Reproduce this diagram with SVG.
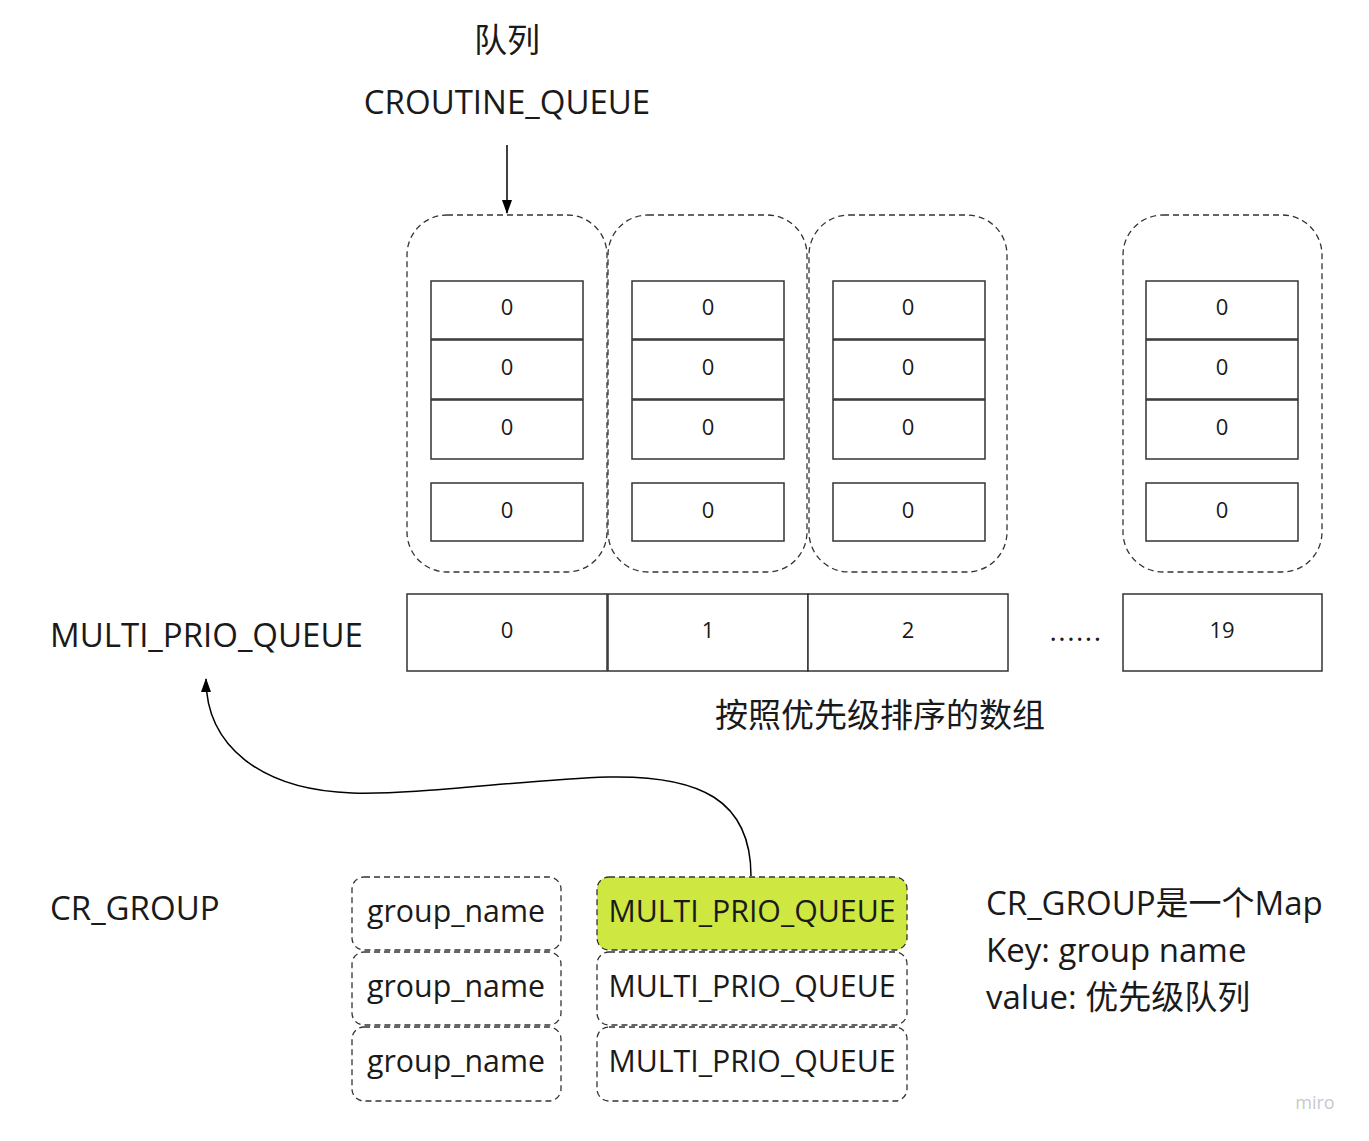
<svg xmlns="http://www.w3.org/2000/svg" width="1369" height="1141" viewBox="0 0 1369 1141">
<defs>
<style>
text{font-family:"Open Sans","Noto Sans CJK SC",sans-serif;fill:#1a1a1a}
.cont{fill:none;stroke:#333;stroke-width:1.3;stroke-dasharray:6 4}
.cell{fill:#fff;stroke:#333;stroke-width:1.5}
.num{font-size:22px;text-anchor:middle}
.lbl{font-size:33px}
.kv{fill:#fff;stroke:#333;stroke-width:1.3;stroke-dasharray:6 4}
.kvt{font-size:30.3px;text-anchor:middle}
.conn{fill:none;stroke:#000;stroke-width:1.5}
</style>
<marker id="ah" viewBox="0 0 14 10" refX="13" refY="5" markerWidth="14" markerHeight="10" markerUnits="userSpaceOnUse" orient="auto"><path d="M0,0 L14,5 L0,10 z" fill="#000"/></marker>
<marker id="ah2" viewBox="0 0 14 10" refX="13" refY="5" markerWidth="14" markerHeight="10" markerUnits="userSpaceOnUse" orient="auto"><path d="M0,0 L14,5 L0,10 z" fill="#000"/></marker>
</defs>
<rect width="1369" height="1141" fill="#fff"/>

<g id="title">
<text x="507" y="52" class="lbl" text-anchor="middle">队列</text>
<text x="507" y="114" class="lbl" text-anchor="middle">CROUTINE_QUEUE</text>
</g>

<g id="queue0">
<rect class="cont" x="407" y="215" width="200" height="357" rx="40"/>
<rect class="cell" x="431" y="281" width="152" height="58"/><text class="num" x="507" y="315">0</text>
<rect class="cell" x="431" y="340" width="152" height="59"/><text class="num" x="507" y="375">0</text>
<rect class="cell" x="431" y="400" width="152" height="59"/><text class="num" x="507" y="435">0</text>
<rect class="cell" x="431" y="483" width="152" height="58"/><text class="num" x="507" y="518">0</text>
</g>
<g id="queue1">
<rect class="cont" x="608" y="215" width="199" height="357" rx="40"/>
<rect class="cell" x="632" y="281" width="152" height="58"/><text class="num" x="708" y="315">0</text>
<rect class="cell" x="632" y="340" width="152" height="59"/><text class="num" x="708" y="375">0</text>
<rect class="cell" x="632" y="400" width="152" height="59"/><text class="num" x="708" y="435">0</text>
<rect class="cell" x="632" y="483" width="152" height="58"/><text class="num" x="708" y="518">0</text>
</g>
<g id="queue2">
<rect class="cont" x="809" y="215" width="198" height="357" rx="40"/>
<rect class="cell" x="833" y="281" width="152" height="58"/><text class="num" x="908" y="315">0</text>
<rect class="cell" x="833" y="340" width="152" height="59"/><text class="num" x="908" y="375">0</text>
<rect class="cell" x="833" y="400" width="152" height="59"/><text class="num" x="908" y="435">0</text>
<rect class="cell" x="833" y="483" width="152" height="58"/><text class="num" x="908" y="518">0</text>
</g>
<g id="queue19">
<rect class="cont" x="1123" y="215" width="199" height="357" rx="40"/>
<rect class="cell" x="1146" y="281" width="152" height="58"/><text class="num" x="1222" y="315">0</text>
<rect class="cell" x="1146" y="340" width="152" height="59"/><text class="num" x="1222" y="375">0</text>
<rect class="cell" x="1146" y="400" width="152" height="59"/><text class="num" x="1222" y="435">0</text>
<rect class="cell" x="1146" y="483" width="152" height="58"/><text class="num" x="1222" y="518">0</text>
</g>

<g id="multi-prio-array">
<text x="50" y="647" class="lbl">MULTI_PRIO_QUEUE</text>
<rect class="cell" x="407" y="594" width="200" height="77"/><text class="num" x="507" y="638">0</text>
<rect class="cell" x="608" y="594" width="200" height="77"/><text class="num" x="708" y="638">1</text>
<rect class="cell" x="808" y="594" width="200" height="77"/><text class="num" x="908" y="638">2</text>
<text x="1076" y="641" class="num" style="font-size:28px;letter-spacing:1.5px">......</text>
<rect class="cell" x="1123" y="594" width="199" height="77"/><text class="num" x="1222" y="638">19</text>
<text x="880" y="727" class="lbl" text-anchor="middle">按照优先级排序的数组</text>
</g>

<g id="cr-group">
<text x="50" y="920" class="lbl">CR_GROUP</text>
<rect class="kv" x="352" y="877" width="209" height="73" rx="12"/><text class="kvt" x="456" y="922">group_name</text>
<rect class="kv" x="352" y="952" width="209" height="73" rx="12"/><text class="kvt" x="456" y="997">group_name</text>
<rect class="kv" x="352" y="1027" width="209" height="74" rx="12"/><text class="kvt" x="456" y="1072">group_name</text>
<rect class="kv" x="597" y="877" width="310" height="73" rx="12" style="fill:#cee741"/><text class="kvt" x="752" y="922">MULTI_PRIO_QUEUE</text>
<rect class="kv" x="597" y="952" width="310" height="73" rx="12"/><text class="kvt" x="752" y="997">MULTI_PRIO_QUEUE</text>
<rect class="kv" x="597" y="1027" width="310" height="74" rx="12"/><text class="kvt" x="752" y="1072">MULTI_PRIO_QUEUE</text>
</g>

<g id="note">
<text x="986" y="915" class="lbl">CR_GROUP是一个Map</text>
<text x="986" y="962" class="lbl">Key: group name</text>
<text x="986" y="1009" class="lbl">value: 优先级队列</text>
</g>

<g id="connectors">
<line class="conn" x1="507" y1="145" x2="507" y2="213" marker-end="url(#ah)"/>
<path class="conn" d="M751,876 C751,800 700,775 608,777 C520,780 420,795 352,793 C260,790 206,745 206,679" marker-end="url(#ah2)"/>
</g>

<text x="1315" y="1109" style="font-size:18px;fill:#c8c8d0;text-anchor:middle">miro</text>
</svg>
